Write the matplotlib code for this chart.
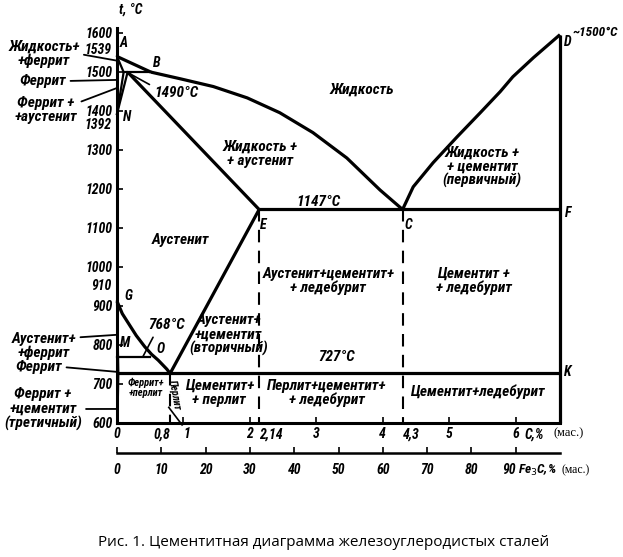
import matplotlib
matplotlib.use("Agg")
import matplotlib.pyplot as plt
import matplotlib.transforms as mtransforms

# --- данные диаграммы (C, % ; t, °C) ---
liq_AB_c = [0.0, 0.51]
liq_AB_t = [1539, 1499]
liq_BC_c = [0.51, 0.95, 1.45, 1.96, 2.45, 2.95, 3.46, 3.96, 4.3]
liq_BC_t = [1499, 1482, 1462, 1433, 1395, 1344, 1279, 1197, 1147]
liq_CD_c = [4.3, 4.46, 4.76, 5.12, 5.47, 5.77, 5.96, 6.27, 6.67]
liq_CD_t = [1147, 1205, 1267, 1333, 1395, 1449, 1487, 1536, 1595]
sol_AH_c = [0.0, 0.1]
sol_AH_t = [1539, 1499]
hjb_c = [0.1, 0.51]
hjb_t = [1499, 1499]
hn_c = [0.1, 0.0]
hn_t = [1499, 1392]
jn_c = [0.16, 0.0]
jn_t = [1499, 1392]
je_c = [0.16, 2.14]
je_t = [1499, 1147]
ecf_c = [2.14, 6.67]
ecf_t = [1147, 1147]
es_c = [2.14, 0.8]
es_t = [1147, 727]
gs_c = [0.0, 0.08, 0.17, 0.29, 0.42, 0.52, 0.62, 0.75, 0.8]
gs_t = [912, 880, 856, 824, 795, 776, 761, 738, 727]
gp_c = [0.0, 0.02]
gp_t = [912, 727]
pq_c = [0.02, 0.006]
pq_t = [727, 600]
mo_c = [0.0, 0.5]
mo_t = [768, 768]
psk_c = [0.02, 6.67]
psk_t = [727, 727]
dk_c = [6.67, 6.67]
dk_t = [1595, 600]
dashed_c = [0.8, 2.14, 4.3]
dashed_top = [727, 1147, 1147]

t_ticks = [600, 700, 800, 900, 1000, 1100, 1200, 1300, 1400, 1500, 1600]
t_extra = ["1539", "1392", "910"]
t_extra_pos = [1556, 1364, 951]
c_ticks = [0, 0.8, 1, 2, 2.14, 3, 4, 4.3, 5, 6]
c_labels = ["0", "0,8", "1", "2", "2,14", "3", "4", "4,3", "5", "6"]
fe3c_ticks = [0, 10, 20, 30, 40, 50, 60, 70, 80, 90]

region_text = ["Жидкость", "Жидкость +\n+ аустенит", "Жидкость +\n+ цементит\n(первичный)",
               "1147°C", "Аустенит", "Аустенит+цементит+\n+ ледебурит",
               "Цементит +\n+ ледебурит", "Аустенит+\n+цементит\n(вторичный)", "727°C",
               "Цементит+\n+ перлит", "Перлит+цементит+\n+ ледебурит", "Цементит+ледебурит"]
region_c = [3.69, 2.15, 5.5, 3.04, 0.95, 3.18, 5.37, 1.68, 3.31, 1.54, 3.16, 5.42]
region_t = [1454, 1290, 1256, 1167, 1069, 964, 964, 826, 769, 677, 677, 680]

point_text = ["A", "B", "N", "E", "C", "F", "D", "K", "G", "M", "O"]
point_c = [0.1, 0.6, 0.15, 2.2, 4.38, 6.79, 6.79, 6.78, 0.17, 0.12, 0.65]
point_t = [1574, 1523, 1385, 1108, 1108, 1138, 1577, 731, 926, 805, 790]

left_text = ["Жидкость+\n+феррит", "Феррит", "Феррит +\n+аустенит",
             "Аустенит+\n+феррит", "Феррит", "Феррит +\n+цементит\n(третичный)"]
left_xy_c = [0.01, 0.0, 0.01, 0.0, 0.0, 0.0]
left_xy_t = [1528, 1479, 1459, 826, 731, 636]
left_px = [(44, 54), (43, 81), (46, 110), (44, 346), (39, 367), (43, 409)]
left_rel = [0.5, 0.5, 0.75, 0.8, 0.5, 0.5]

fam = ["Roboto Condensed", "Liberation Sans Narrow", "Roboto", "DejaVu Sans"]
font = dict(family=fam, weight="bold", style="italic")
fs = 11
tfs = 10

fig = plt.figure(figsize=(6.23, 5.57), dpi=100)
H = 557
ax = fig.add_axes([117 / 623, (H - 423) / H, 443 / 623, 395 / H])
ax.set_xlim(0, 6.67)
ax.set_ylim(600, 1612)

lw = 2.3
for cs, ts in [(liq_AB_c, liq_AB_t), (liq_BC_c, liq_BC_t), (liq_CD_c, liq_CD_t),
               (ecf_c, ecf_t), (es_c, es_t), (je_c, je_t), (gs_c, gs_t), (psk_c, psk_t), (dk_c, dk_t)]:
    ax.plot(cs, ts, color="black", lw=lw, solid_capstyle="butt", solid_joinstyle="round", clip_on=False)
for cs, ts in [(sol_AH_c, sol_AH_t), (hjb_c, hjb_t), (hn_c, hn_t), (jn_c, jn_t),
               (gp_c, gp_t), (pq_c, pq_t), (mo_c, mo_t)]:
    ax.plot(cs, ts, color="black", lw=1.6, clip_on=False)
for c, top in zip(dashed_c, dashed_top):
    ax.plot([c, c], [top, 600], color="black", lw=1.5, ls=(0, (6, 4)))
ax.plot([0.78, 0.98], [640, 595], color="black", lw=1.2, clip_on=False)

for sp in ["top", "right"]:
    ax.spines[sp].set_visible(False)
ax.spines["left"].set_linewidth(2.2)
ax.spines["bottom"].set_linewidth(2.2)

ax.set_yticks(t_ticks)
ax.set_yticklabels([str(t) for t in t_ticks])
ax.set_xticks(c_ticks)
ax.set_xticklabels(c_labels)
ax.tick_params(axis="both", direction="in", length=4, width=1.2, labelsize=tfs)
ax.tick_params(axis="y", pad=3)
ax.tick_params(axis="x", pad=3)
for lab in ax.get_xticklabels() + ax.get_yticklabels():
    lab.set_fontfamily(fam)
    lab.set_fontweight("bold")
    lab.set_fontstyle("italic")
xl = ax.get_xticklabels()
xl[1].set_ha("right")
xl[2].set_ha("left")
xl[4].set_ha("left")
xl[7].set_ha("left")

trans = mtransforms.blended_transform_factory(ax.transAxes, ax.transData)
for s, t in zip(t_extra, t_extra_pos):
    ax.text(-0.012, t, s, transform=trans, ha="right", va="center", fontsize=tfs, **font)

off = mtransforms.ScaledTranslation(0, -3 / 72, fig.dpi_scale_trans)
ax.text(6.13, 600, "C,%", ha="left", va="top", fontsize=tfs, transform=ax.transData + off, **font)
ax.text(6.57, 600, "(мас.)", ha="left", va="top", fontsize=9,
        family=["Liberation Serif", "DejaVu Serif"], transform=ax.transData + off)

sec = ax.secondary_xaxis(-0.076, functions=(lambda c: c * 100 / 6.67, lambda f: f * 6.67 / 100))
sec.set_xticks(fe3c_ticks)
sec.spines["bottom"].set_linewidth(1.8)
sec.tick_params(direction="in", length=4, width=1.2, labelsize=tfs, pad=7)
for lab in sec.get_xticklabels():
    lab.set_fontfamily(fam)
    lab.set_fontweight("bold")
    lab.set_fontstyle("italic")
sec.get_xticklabels()[-1].set_ha("right")
fig.text(518 / 623, 1 - 470 / H, "Fe$_3$C,%", ha="left", va="center", fontsize=9.5, **font)
fig.text(561 / 623, 1 - 470 / H, "(мас.)", ha="left", va="center", fontsize=8.5,
         family=["Liberation Serif", "DejaVu Serif"])

for s, c, t in zip(region_text, region_c, region_t):
    ax.text(c, t, s, ha="center", va="center", fontsize=fs, linespacing=1.0, **font)
ax.text(0.44, 690, "Феррит+\n+перлит", ha="center", va="center", fontsize=7.5, linespacing=1.0, **font)
ax.text(0.87, 672, "Перлит", ha="center", va="center", fontsize=7.5, rotation=-80, **font)

for s, c, t in zip(point_text, point_c, point_t):
    ax.text(c, t, s, ha="center", va="center", fontsize=tfs, **font)
ax.text(6.86, 1600, "~1500°C", ha="left", va="center", fontsize=9.5, clip_on=False, **font)
fig.text(119 / 623, 1 - 10 / H, "t, °C", ha="left", va="center", fontsize=tfs, **font)

ax.annotate("1490°C", xy=(0.17, 1497), xytext=(0.9, 1446), ha="center", va="center",
            fontsize=fs, **font, arrowprops=dict(arrowstyle="-", lw=1.2, shrinkA=2, shrinkB=0, relpos=(0.05, 0.8)))
ax.annotate("768°C", xy=(0.39, 770), xytext=(0.75, 851), ha="center", va="center",
            fontsize=fs, **font, arrowprops=dict(arrowstyle="-", lw=1.2, shrinkA=2, shrinkB=0, relpos=(0.2, 0.0)))

for s, c, t, (px, py), r in zip(left_text, left_xy_c, left_xy_t, left_px, left_rel):
    ax.annotate(s, xy=(c, t), xytext=(px, H - py), textcoords="figure pixels",
                ha="center", va="center", fontsize=fs, linespacing=1.0, **font,
                arrowprops=dict(arrowstyle="-", lw=1.3, shrinkA=1, shrinkB=0, relpos=(1.0, r)))

fig.text(324 / 623, 1 - 543 / H, "Рис. 1. Цементитная диаграмма железоуглеродистых сталей",
         ha="center", va="center", fontsize=11, family=["Open Sans", "DejaVu Sans"])

fig.savefig("out.png", dpi=100)
